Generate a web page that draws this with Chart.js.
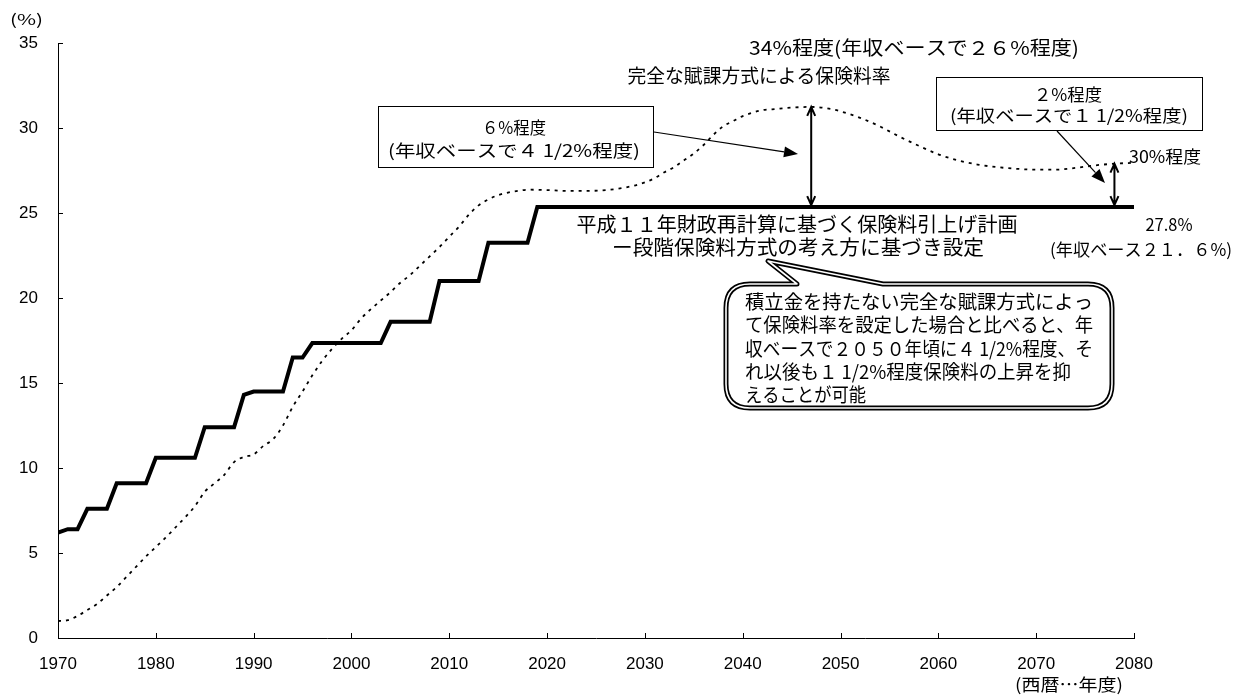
<!DOCTYPE html>
<html lang="ja">
<head>
<meta charset="utf-8">
<script src="https://cdn.jsdelivr.net/npm/chart.js@4.4.1/dist/chart.umd.min.js"></script>
<style>
html, body { margin: 0; padding: 0; background: #fff; }
#wrap { width: 1241px; height: 695px; }
</style>
</head>
<body>
<div id="wrap"><canvas id="c" width="1241" height="695"></canvas></div>
<script>
// 平成11年財政再計算に基づく保険料引上げ計画 (%)
var planYears = [1970, 1971, 1972, 1973, 1975, 1976, 1979, 1980, 1984, 1985, 1988, 1989, 1990, 1993, 1994, 1995,
	1996, 2003, 2004, 2008, 2009, 2013, 2014, 2018, 2019, 2080];
var planRates = [6.2, 6.4, 6.4, 7.6, 7.6, 9.1, 9.1, 10.6, 10.6, 12.4, 12.4, 14.3, 14.5, 14.5, 16.5, 16.5,
	17.35, 17.35, 18.6, 18.6, 21.0, 21.0, 23.25, 23.25, 25.35, 25.35];

// 完全な賦課方式による保険料率 (%)
var payYears = [1970, 1971, 1972, 1973, 1974, 1975, 1976, 1977, 1978, 1979, 1980, 1981, 1982, 1983, 1984, 1985,
	1986, 1987, 1988, 1989, 1990, 1991, 1992, 1993, 1994, 1995, 1996, 1997, 1998, 1999, 2000, 2001, 2002, 2003,
	2004, 2005, 2006, 2007, 2008, 2009, 2010, 2011, 2012, 2013, 2014, 2015, 2016, 2017, 2018, 2020, 2022, 2024,
	2026, 2028, 2030, 2031, 2032, 2033, 2034, 2035, 2036, 2037, 2038, 2039, 2040, 2041, 2042, 2043, 2045, 2047,
	2049, 2050, 2052, 2054, 2056, 2058, 2060, 2062, 2064, 2066, 2068, 2070, 2072, 2074, 2076, 2078, 2080];
var payRates = [1.0, 1.05, 1.3, 1.65, 2.0, 2.5, 3.0, 3.6, 4.2, 4.8, 5.35, 5.9, 6.5, 7.1, 7.75, 8.6,
	9.1, 9.6, 10.35, 10.65, 10.8, 11.3, 11.7, 12.5, 13.6, 14.5, 15.45, 16.3, 17.0, 17.6, 18.1, 18.8, 19.35, 19.85,
	20.35, 20.9, 21.35, 21.9, 22.45, 23.0, 23.6, 24.2, 24.9, 25.45, 25.8, 26.05, 26.2, 26.3, 26.37, 26.35, 26.3, 26.3,
	26.35, 26.5, 26.8, 27.05, 27.4, 27.7, 28.1, 28.5, 29.0, 29.6, 30.1, 30.4, 30.7, 30.9, 31.05, 31.1, 31.2, 31.24,
	31.12, 30.98, 30.6, 30.1, 29.5, 28.95, 28.45, 28.1, 27.85, 27.7, 27.6, 27.55, 27.55, 27.65, 27.8, 27.9, 27.95];

var xTickYears = [1970, 1980, 1990, 2000, 2010, 2020, 2030, 2040, 2050, 2060, 2070, 2080];
var yTickValues = [0, 5, 10, 15, 20, 25, 30, 35];

var JP = '"Noto Sans CJK JP", "Noto Sans CJK SC", sans-serif';
var NUM = '"Liberation Sans", Arial, sans-serif';

function toPoints(xs, ys) {
	return xs.map(function (x, i) { return { x: x, y: ys[i] }; });
}

function valueAt(xs, ys, year) {
	for (var i = 1; i < xs.length; i++) {
		if (year <= xs[i]) {
			var t = (year - xs[i - 1]) / (xs[i] - xs[i - 1]);
			return ys[i - 1] + t * (ys[i] - ys[i - 1]);
		}
	}
	return ys[ys.length - 1];
}

// text squeezed/stretched horizontally to the width it has in the reference
function fitText(ctx, s, cx, cy, size, w, align) {
	ctx.save();
	ctx.font = size + 'px ' + JP;
	ctx.textBaseline = 'middle';
	ctx.textAlign = 'left';
	ctx.fillStyle = '#000';
	var m = ctx.measureText(s).width;
	var k = w ? w / m : 1;
	var left = align === 'left' ? cx : cx - m * k / 2;
	ctx.translate(left, cy);
	ctx.scale(k, 1);
	ctx.fillText(s, 0, 0);
	ctx.restore();
	return k;
}

function solidArrow(ctx, x1, y1, x2, y2) {
	var a = Math.atan2(y2 - y1, x2 - x1);
	var len = 14, half = 5.5;
	var bx = x2 - len * Math.cos(a), by = y2 - len * Math.sin(a);
	ctx.save();
	ctx.strokeStyle = '#000';
	ctx.fillStyle = '#000';
	ctx.lineWidth = 1.2;
	ctx.beginPath();
	ctx.moveTo(x1, y1);
	ctx.lineTo(bx, by);
	ctx.stroke();
	ctx.beginPath();
	ctx.moveTo(x2, y2);
	ctx.lineTo(bx + half * Math.sin(a), by - half * Math.cos(a));
	ctx.lineTo(bx - half * Math.sin(a), by + half * Math.cos(a));
	ctx.closePath();
	ctx.fill();
	ctx.restore();
}

function doubleArrow(ctx, x, yTop, yBot) {
	ctx.save();
	ctx.strokeStyle = '#000';
	ctx.lineWidth = 2;
	ctx.beginPath();
	ctx.moveTo(x, yTop);
	ctx.lineTo(x, yBot);
	ctx.moveTo(x - 4, yTop + 9);
	ctx.lineTo(x, yTop);
	ctx.lineTo(x + 4, yTop + 9);
	ctx.moveTo(x - 4, yBot - 9);
	ctx.lineTo(x, yBot);
	ctx.lineTo(x + 4, yBot - 9);
	ctx.stroke();
	ctx.restore();
}

function balloon(ctx) {
	var L = 726, T = 284, R = 1112, B = 408, r = 24;
	ctx.save();
	ctx.beginPath();
	ctx.moveTo(L + r, T);
	ctx.lineTo(797, T);
	ctx.lineTo(768, 261);
	ctx.lineTo(883, T);
	ctx.lineTo(R - r, T);
	ctx.quadraticCurveTo(R, T, R, T + r);
	ctx.lineTo(R, B - r);
	ctx.quadraticCurveTo(R, B, R - r, B);
	ctx.lineTo(L + r, B);
	ctx.quadraticCurveTo(L, B, L, B - r);
	ctx.lineTo(L, T + r);
	ctx.quadraticCurveTo(L, T, L + r, T);
	ctx.closePath();
	ctx.fillStyle = '#fff';
	ctx.fill();
	ctx.lineJoin = 'round';
	ctx.strokeStyle = '#000';
	ctx.lineWidth = 5;
	ctx.stroke();
	ctx.strokeStyle = '#fff';
	ctx.lineWidth = 1.6;
	ctx.stroke();
	ctx.restore();
}

var notesPlugin = {
	id: 'notes',
	afterDraw: function (chart) {
		var ctx = chart.ctx;
		var xs = chart.scales.x, ys = chart.scales.y;
		var area = chart.chartArea;

		// inward tick marks
		ctx.save();
		ctx.strokeStyle = '#000';
		ctx.lineWidth = 1;
		ctx.beginPath();
		yTickValues.forEach(function (v) {
			var py = Math.round(ys.getPixelForValue(v)) + 0.5;
			ctx.moveTo(area.left, py);
			ctx.lineTo(area.left + 5, py);
		});
		xTickYears.forEach(function (v) {
			var px = Math.round(xs.getPixelForValue(v)) + 0.5;
			ctx.moveTo(px, area.bottom);
			ctx.lineTo(px, area.bottom - 5);
		});
		ctx.stroke();
		ctx.restore();

		fitText(ctx, '(%)', 26.5, 19, 15, 33);
		fitText(ctx, '(西暦…年度)', 1069, 685, 17, 108);

		// gaps between the two rates at the peak and at the end
		var peakYear = 2047, endYear = 2078;
		doubleArrow(ctx, xs.getPixelForValue(peakYear),
			ys.getPixelForValue(valueAt(payYears, payRates, peakYear)),
			ys.getPixelForValue(valueAt(planYears, planRates, peakYear)) - 2);
		doubleArrow(ctx, xs.getPixelForValue(endYear),
			ys.getPixelForValue(valueAt(payYears, payRates, endYear)),
			ys.getPixelForValue(valueAt(planYears, planRates, endYear)) - 2);

		fitText(ctx, '34%程度(年収ベースで２６%程度)', 914, 48, 19, 330);
		fitText(ctx, '完全な賦課方式による保険料率', 759, 76, 19, 263);

		// boxes
		ctx.save();
		ctx.strokeStyle = '#000';
		ctx.lineWidth = 1;
		ctx.fillStyle = '#fff';
		ctx.fillRect(378.5, 106.5, 275, 61);
		ctx.strokeRect(378.5, 106.5, 275, 61);
		ctx.fillRect(936.5, 77.5, 266, 53);
		ctx.strokeRect(936.5, 77.5, 266, 53);
		ctx.restore();
		fitText(ctx, '６%程度', 514, 128, 17, 64);
		fitText(ctx, '(年収ベースで４ 1/2%程度)', 514, 151, 17, 252);
		solidArrow(ctx, 654, 132, 798, 154);

		fitText(ctx, '２%程度', 1068, 95, 17, 68);
		fitText(ctx, '(年収ベースで１ 1/2%程度)', 1069, 116, 17, 238);
		solidArrow(ctx, 1057, 131, 1105, 183);

		fitText(ctx, '30%程度', 1165, 157, 17, 72);
		fitText(ctx, '27.8%', 1169, 225, 17, 47);
		fitText(ctx, '(年収ベース２１．６%)', 1141, 250, 17, 182);

		fitText(ctx, '平成１１年財政再計算に基づく保険料引上げ計画', 797, 224, 20, 441);
		fitText(ctx, 'ー段階保険料方式の考え方に基づき設定', 798, 247, 20, 372);

		balloon(ctx);
		var lines = [
			'積立金を持たない完全な賦課方式によっ',
			'て保険料率を設定した場合と比べると、年',
			'収ベースで２０５０年頃に４ 1/2%程度、そ',
			'れ以後も１ 1/2%程度保険料の上昇を抑',
			'えることが可能'
		];
		var widths = [348, 348, 348, 326, 121];
		lines.forEach(function (s, i) {
			fitText(ctx, s, 745, 302 + i * 23.2, 19, widths[i], 'left');
		});
	}
};

var ctx = document.getElementById('c').getContext('2d');
new Chart(ctx, {
	type: 'line',
	data: {
		datasets: [{
			label: '平成11年財政再計算に基づく保険料引上げ計画',
			data: toPoints(planYears, planRates),
			borderColor: '#000',
			borderWidth: 4,
			borderJoinStyle: 'miter',
			pointRadius: 0,
			tension: 0,
			fill: false
		}, {
			label: '完全な賦課方式による保険料率',
			data: toPoints(payYears, payRates),
			borderColor: '#000',
			borderWidth: 1.8,
			borderDash: [3, 5],
			pointRadius: 0,
			cubicInterpolationMode: 'monotone',
			fill: false
		}]
	},
	options: {
		responsive: false,
		animation: false,
		events: [],
		layout: { padding: { left: 0, top: 43, right: 107, bottom: 0 } },
		plugins: { legend: { display: false }, tooltip: { enabled: false } },
		scales: {
			x: {
				type: 'linear',
				min: 1970,
				max: 2080,
				afterBuildTicks: function (s) { s.ticks = xTickYears.map(function (v) { return { value: v }; }); },
				afterFit: function (s) { s.height = 57; },
				ticks: {
					callback: function (v) { return String(v); },
					color: '#000',
					font: { family: NUM, size: 17 },
					padding: 16,
					maxRotation: 0
				},
				grid: { drawOnChartArea: false, drawTicks: false },
				border: { display: true, color: '#000', width: 1 }
			},
			y: {
				min: 0,
				max: 35,
				afterBuildTicks: function (s) { s.ticks = yTickValues.map(function (v) { return { value: v }; }); },
				afterFit: function (s) { s.width = 58; },
				ticks: {
					callback: function (v) { return String(v); },
					color: '#000',
					font: { family: NUM, size: 17 },
					padding: 20
				},
				grid: { drawOnChartArea: false, drawTicks: false },
				border: { display: true, color: '#000', width: 1 }
			}
		}
	},
	plugins: [notesPlugin]
});
</script>
</body>
</html>
